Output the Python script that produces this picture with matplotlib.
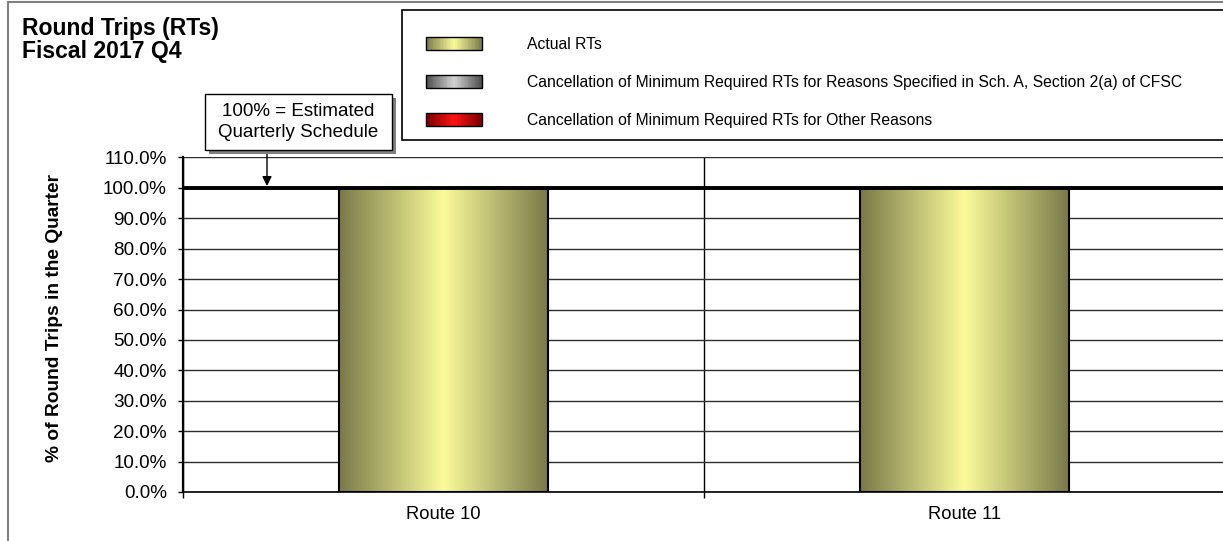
import matplotlib
matplotlib.use('Agg')
import matplotlib.pyplot as plt
import numpy as np
from matplotlib.colors import LinearSegmentedColormap
from matplotlib.patches import Rectangle
from matplotlib.legend_handler import HandlerBase
from matplotlib.ticker import FuncFormatter

plt.rcParams['font.family'] = ['Liberation Sans', 'DejaVu Sans']

# data (percent of round trips in the quarter)
routes = ['Route 10', 'Route 11']
actual_rts = [100.0, 100.0]
cancel_sched_a = [0.0, 0.0]
cancel_other = [0.0, 0.0]
series_names = ['Actual RTs',
                'Cancellation of Minimum Required RTs for Reasons Specified in Sch. A, Section 2(a) of CFSC',
                'Cancellation of Minimum Required RTs for Other Reasons']
y_ticks = np.arange(0, 111, 10)
estimate_level = 100.0

W, H = 1223, 541


def px(x, y):
    # pixel position (from top-left) -> figure fraction
    return (x / W, 1 - y / H)


def rect_px(x0, y0, x1, y1, **kw):
    return Rectangle(px(x0, y1), (x1 - x0) / W, (y1 - y0) / H,
                     transform=fig.transFigure, **kw)


# edge colour, centre colour of each bar gradient
gradients = [('#79794a', '#fbfb9b'), ('#4c4c4c', '#d4d4d4'), ('#780000', '#ff1414')]
cmaps = [LinearSegmentedColormap.from_list('grad%d' % i, [e, c, e])
         for i, (e, c) in enumerate(gradients)]


class GradientHandler(HandlerBase):
    def __init__(self, cmap):
        super().__init__()
        self.cmap = cmap

    def create_artists(self, legend, orig_handle, xdescent, ydescent,
                       width, height, fontsize, trans):
        n = 40
        arts = []
        for i in range(n):
            arts.append(Rectangle((-xdescent + width * i / n, -ydescent), width / n * 1.05, height,
                                  facecolor=self.cmap((i + 0.5) / n), edgecolor='none', transform=trans))
        arts.append(Rectangle((-xdescent, -ydescent), width, height, facecolor='none',
                              edgecolor='black', lw=1, transform=trans))
        return arts


fig = plt.figure(figsize=(W / 100, H / 100), dpi=100)
ax = fig.add_axes([183 / W, 1 - 492 / H, 1042 / W, 334.5 / H])

x = np.arange(len(routes))
bw = 0.4
bottoms = np.zeros(len(routes))
containers = []
for vals, cmap, name in zip([actual_rts, cancel_sched_a, cancel_other], cmaps, series_names):
    bc = ax.bar(x, vals, bw, bottom=bottoms, facecolor='none', edgecolor='black',
                linewidth=1.5, label=name, zorder=3)
    for p in bc.patches:
        if p.get_height() > 0:
            bx, by = p.get_x(), p.get_y()
            im = ax.imshow(np.linspace(0, 1, 256).reshape(1, -1), cmap=cmap, aspect='auto',
                           extent=[bx, bx + p.get_width(), by, by + p.get_height()],
                           zorder=2, interpolation='bilinear')
            im.set_clip_path(p)
    containers.append(bc)
    bottoms = bottoms + np.array(vals)

ax.axhline(estimate_level, color='black', lw=2.8, zorder=4)

ax.set_xlim(-0.5, len(routes) - 0.5)
ax.set_ylim(0, 110)
ax.set_yticks(y_ticks)
ax.yaxis.set_major_formatter(FuncFormatter(lambda v, pos: '%.1f%%' % v))
ax.set_xticks(x)
ax.set_xticklabels(routes)
ax.set_xticks(np.arange(-0.5, len(routes), 1.0), minor=True)
ax.tick_params(axis='x', which='major', length=0, labelsize=13.2, pad=10)
ax.tick_params(axis='x', which='minor', length=4.3, width=1, direction='out')
ax.tick_params(axis='y', length=3.6, width=1, direction='out', labelsize=13.6, pad=8)
ax.yaxis.grid(True, color='#2e2e2e', lw=1, zorder=0)
ax.xaxis.grid(True, which='minor', color='black', lw=1, zorder=0)
ax.set_axisbelow(True)
for s in ['top', 'right']:
    ax.spines[s].set_visible(False)
ax.spines['left'].set_linewidth(1.6)
ax.spines['bottom'].set_linewidth(1.2)

# outer chart border
fig.add_artist(rect_px(8, 2, 1260, 580, facecolor='none', edgecolor='#808080', lw=1.5))

# titles
fig.text(*px(22, 17), 'Round Trips (RTs)\nFiscal 2017 Q4', ha='left', va='top',
         fontsize=16.6, fontweight='bold', linespacing=1.02)
fig.text(*px(55, 318), '% of Round Trips in the Quarter', rotation=90, ha='center',
         va='center', fontsize=13.8, fontweight='bold')

# legend
fig.add_artist(rect_px(402, 10, 1260, 140, facecolor='white', edgecolor='black', lw=1.2, zorder=1))
fig.legend(containers, series_names,
           handler_map={c: GradientHandler(cm) for c, cm in zip(containers, cmaps)},
           loc='upper left', bbox_to_anchor=px(426, 37), frameon=False, borderpad=0,
           borderaxespad=0, fontsize=11.3, handlelength=3.57, handleheight=0.89,
           handletextpad=2.87, labelspacing=1.45)

# callout box
fig.add_artist(rect_px(209, 98, 396, 154, facecolor='#808080', edgecolor='none', zorder=2))
fig.add_artist(rect_px(205, 94, 392, 150, facecolor='white', edgecolor='black', lw=1, zorder=3))
fig.text(*px(298.5, 122), '100% = Estimated\nQuarterly Schedule', ha='center', va='center',
         fontsize=13.5, linespacing=1.25, zorder=4)
ax.annotate('', xy=px(267, 186), xycoords='figure fraction', xytext=px(267, 150),
            textcoords='figure fraction', annotation_clip=False,
            arrowprops=dict(arrowstyle='-|>', color='black', lw=1, mutation_scale=14,
                            shrinkA=0, shrinkB=0), zorder=5)

fig.savefig('out.png', dpi=100)
